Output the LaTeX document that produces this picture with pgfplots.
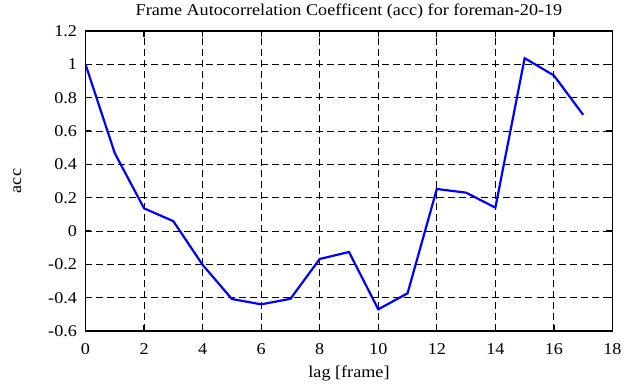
\documentclass[border=0pt]{standalone}
\usepackage{fontspec}
\setmainfont{Liberation Serif}[FakeStretch=1.1]
\usepackage{pgfplots}
\pgfplotsset{compat=1.18}
\newcommand{\ff}{\fontsize{16.5}{18}\selectfont}
\begin{document}
\begin{tikzpicture}
\begin{axis}[
  at={(0,0)}, anchor=south west,
  scale only axis, width=527pt, height=300pt,
  xmin=0, xmax=18, ymin=-0.6, ymax=1.2,
  xtick={0,2,...,18}, ytick={-0.6,-0.4,...,1.21},
  yticklabel style={/pgf/number format/fixed, /pgf/number format/precision=1},
  /pgf/number format/assume math mode=true,
  tick align=inside, tick pos=both, major tick length=6pt,
  tick style={black, line width=1.2pt},
  axis line style={black, line width=1.6pt},
  grid=major, major grid style={black, line width=0.9pt, dash pattern=on 7pt off 4pt},
  tick label style={font=\ff},
  label style={font=\ff},
  title style={font=\ff, yshift=2pt},
  xticklabel style={yshift=-9pt},
  yticklabel style={xshift=-5pt},
  title={Frame Autocorrelation Coefficent (acc) for foreman-20-19},
  xlabel={lag [frame]}, ylabel={acc},
  xlabel style={yshift=-4pt},
  ylabel style={yshift=20pt},
]
\addplot[blue, line width=2.2pt, line join=miter] coordinates {
(0,1.0) (1,0.467) (2,0.136) (3,0.059) (4,-0.203) (5,-0.408) (6,-0.44) (7,-0.407)
(8,-0.168) (9,-0.126) (10,-0.47) (11,-0.374) (12,0.252) (13,0.23) (14,0.14)
(15,1.037) (16,0.933) (17,0.697)
};
\end{axis}
\pgfresetboundingbox
\useasboundingbox (-85.5pt,-56pt) rectangle (555.5pt,331pt);
\end{tikzpicture}
\end{document}
